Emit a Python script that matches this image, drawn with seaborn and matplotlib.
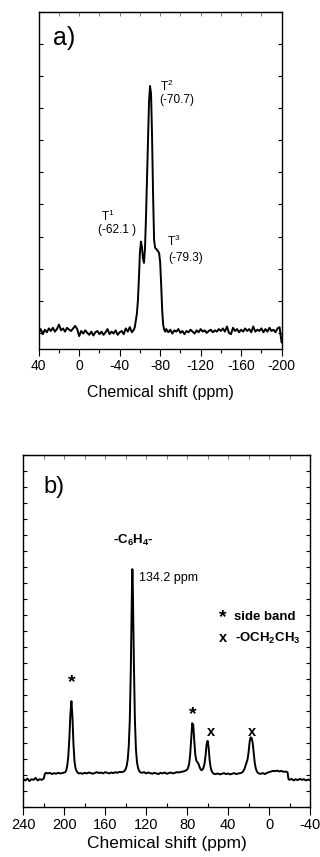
import numpy as np
import pandas as pd
import seaborn as sns
import matplotlib.pyplot as plt
from matplotlib.ticker import MultipleLocator, NullFormatter

# panel a: 29Si spectrum
shift_a = ([40, 38, 36, 34, 32, 30, 28, 26, 24, 22, 20, 18, 16, 14, 12, 10, 8, 6, 4, 2,
            0, -2, -4, -6, -8, -10, -12, -14, -16, -18, -20, -22, -24, -26, -28, -30,
            -32, -34, -36, -38, -40, -42, -44, -46, -48, -50, -52, -54]
           + list(range(-55, -87, -1))
           + [-88, -90, -92, -94, -96, -98, -100, -102, -104, -106, -108, -110, -112,
              -114, -116, -118, -120, -122, -124, -126, -128, -130, -132, -134, -136,
              -138, -140, -142, -144, -146, -148, -150, -152, -154, -156, -158, -160,
              -162, -164, -166, -168, -170, -172, -174, -176, -178, -180, -182, -184,
              -186, -188, -190, -192, -194, -196, -198, -200])
signal_a = ([0.000, 0.012, -0.004, 0.010, 0.002, 0.014, 0.006, 0.016, 0.004, 0.012,
             0.026, 0.008, 0.014, 0.004, 0.016, 0.010, 0.006, 0.014, 0.022, 0.012,
             -0.010, 0.006, -0.002, 0.008, 0.000, -0.006, 0.004, -0.008, 0.002, 0.006,
             -0.004, 0.004, -0.006, 0.002, 0.012, -0.004, 0.004, -0.002, 0.008, -0.006,
             0.002, 0.006, -0.004, 0.014, 0.004, 0.018, 0.002, 0.010]
            + [0.019, 0.040, 0.060, 0.100, 0.170, 0.250, 0.284, 0.268, 0.232, 0.218,
               0.262, 0.360, 0.480, 0.610, 0.720, 0.769, 0.745, 0.610, 0.430, 0.290,
               0.265, 0.262, 0.258, 0.254, 0.248, 0.220, 0.150, 0.070, 0.025, 0.010,
               0.004, 0.012]
            + [0.002, 0.010, -0.002, 0.008, 0.004, 0.012, 0.000, 0.006, -0.004, 0.006,
               0.002, 0.010, 0.004, -0.002, 0.008, 0.002, 0.012, 0.004, 0.008, 0.000,
               0.006, 0.010, 0.002, 0.008, 0.004, 0.012, 0.006, 0.014, 0.004, 0.020,
               0.000, -0.004, 0.016, 0.006, 0.012, 0.002, 0.010, 0.004, 0.014, 0.006,
               0.012, 0.002, 0.020, 0.004, 0.010, 0.006, 0.014, 0.002, 0.012, 0.004,
               0.016, 0.006, 0.010, 0.002, 0.014, 0.018, -0.030])

# panel b: 13C spectrum
shift_b = ([240, 238, 236, 234, 232, 230, 228, 226, 224, 222, 220, 219, 218, 216, 214,
            212, 210, 208, 206, 204, 202, 200]
           + list(range(199, 185, -1))
           + [184, 182, 180, 178, 176, 174, 172, 170, 168, 166, 164, 162, 160, 158, 156,
              154, 152, 150, 148, 146, 144, 142]
           + [141, 140, 139, 138, 137, 136, 135, 134, 133.5, 133, 132, 131, 130, 129,
              128, 127, 126]
           + [124, 122, 120, 118, 116, 114, 112, 110, 108, 106, 104, 102, 100, 98, 96,
              94, 92, 90, 88, 86, 84, 82, 80]
           + list(range(79, 53, -1))
           + [52, 50, 48, 46, 44, 42, 40, 38, 36, 34, 32, 30, 28]
           + list(range(27, 9, -1))
           + [8, 6, 4, 2, 0, -2, -4, -6, -8, -10, -12, -14, -16, -18, -19, -20, -22, -24,
              -26, -28, -30, -32, -34, -36, -38, -40])
signal_b = ([0.036, 0.032, 0.038, 0.030, 0.036, 0.034, 0.040, 0.032, 0.036, 0.034,
             0.038, 0.052, 0.056, 0.054, 0.056, 0.052, 0.055, 0.053, 0.056, 0.054,
             0.055, 0.057]
            + [0.058, 0.064, 0.080, 0.110, 0.165, 0.240, 0.280, 0.230, 0.145, 0.092,
               0.070, 0.062, 0.057, 0.054]
            + [0.055, 0.053, 0.056, 0.054, 0.057, 0.055, 0.053, 0.056, 0.058, 0.055,
               0.057, 0.054, 0.058, 0.056, 0.054, 0.057, 0.055, 0.058, 0.056, 0.059,
               0.058, 0.060]
            + [0.062, 0.068, 0.078, 0.098, 0.140, 0.220, 0.380, 0.610, 0.693, 0.630,
               0.400, 0.220, 0.130, 0.090, 0.072, 0.063, 0.058]
            + [0.056, 0.058, 0.054, 0.057, 0.055, 0.053, 0.056, 0.054, 0.052, 0.056,
               0.054, 0.057, 0.053, 0.055, 0.057, 0.054, 0.056, 0.058, 0.057, 0.059,
               0.060, 0.062, 0.066]
            + [0.072, 0.085, 0.115, 0.165, 0.211, 0.205, 0.155, 0.112, 0.094, 0.089,
               0.085, 0.075, 0.068, 0.064, 0.066, 0.072, 0.085, 0.110, 0.145, 0.156,
               0.135, 0.095, 0.072, 0.061, 0.056, 0.053]
            + [0.052, 0.054, 0.051, 0.053, 0.055, 0.052, 0.054, 0.051, 0.053, 0.055,
               0.052, 0.054, 0.055]
            + [0.056, 0.058, 0.062, 0.068, 0.078, 0.088, 0.098, 0.120, 0.152, 0.167,
               0.165, 0.150, 0.118, 0.088, 0.070, 0.061, 0.056, 0.054]
            + [0.053, 0.055, 0.052, 0.056, 0.058, 0.060, 0.062, 0.061, 0.063, 0.060,
               0.062, 0.059, 0.060, 0.058, 0.036, 0.034, 0.037, 0.032, 0.036, 0.033,
               0.037, 0.034, 0.036, 0.032, 0.035, 0.033])

df_a = pd.DataFrame({'shift': shift_a, 'signal': signal_a})
df_b = pd.DataFrame({'shift': shift_b, 'signal': signal_b})

sns.set_style('ticks')
plt.rcParams['font.family'] = ['Liberation Sans', 'DejaVu Sans']
plt.rcParams['mathtext.fontset'] = 'custom'
plt.rcParams['mathtext.rm'] = 'Liberation Sans'
plt.rcParams['mathtext.bf'] = 'Liberation Sans:bold'
plt.rcParams['axes.unicode_minus'] = False
plt.rcParams['text.color'] = 'black'
plt.rcParams['axes.labelcolor'] = 'black'
plt.rcParams['xtick.color'] = 'black'
plt.rcParams['ytick.color'] = 'black'

fig = plt.figure(figsize=(3.2, 8.57), dpi=100)
ax1 = fig.add_axes([0.121, 0.5928, 0.759, 0.3935])
ax2 = fig.add_axes([0.0728, 0.0587, 0.896, 0.4104])

# ---- a) ----
sns.lineplot(data=df_a, x='shift', y='signal', ax=ax1, color='black', lw=1.4,
             estimator=None, sort=False)
ax1.set_xlim(40, -200)
ax1.set_ylim(-0.05, 1.0)
ax1.xaxis.set_major_locator(MultipleLocator(40))
ax1.xaxis.set_minor_locator(MultipleLocator(20))
ax1.yaxis.set_major_locator(MultipleLocator(0.1))
ax1.tick_params(axis='x', which='major', direction='out', length=5, width=0.8,
                labelsize=10, pad=2)
ax1.tick_params(axis='x', which='minor', direction='out', length=3, width=0.8)
ax1.tick_params(axis='y', direction='in', length=3, width=0.8, left=True, right=True,
                labelleft=False)
ax1.set_xlabel('Chemical shift (ppm)', fontsize=11.5, labelpad=9)
ax1.set_ylabel('')
ax1.text(0.06, 0.922, 'a)', transform=ax1.transAxes, fontsize=18, va='center', ha='left')
ax1.text(-86.4, 0.769, r'T$^{\mathrm{2}}$', fontsize=8.5, ha='center', va='center')
ax1.text(-96.6, 0.725, '(-70.7)', fontsize=8.5, ha='center', va='center')
ax1.text(-27.8, 0.364, r'T$^{\mathrm{1}}$', fontsize=8.5, ha='center', va='center')
ax1.text(-37.0, 0.320, '(-62.1 )', fontsize=8.5, ha='center', va='center')
ax1.text(-93.6, 0.284, r'T$^{\mathrm{3}}$', fontsize=8.5, ha='center', va='center')
ax1.text(-105.2, 0.234, '(-79.3)', fontsize=8.5, ha='center', va='center')

# ---- b) ----
sns.lineplot(data=df_b, x='shift', y='signal', ax=ax2, color='black', lw=1.4,
             estimator=None, sort=False)
ax2.set_xlim(240, -40)
ax2.set_ylim(-0.05, 1.05)
ax2.xaxis.set_major_locator(MultipleLocator(40))
ax2.xaxis.set_minor_locator(MultipleLocator(20))
ax2.yaxis.set_major_locator(MultipleLocator(0.05))
ax2.tick_params(axis='x', which='major', direction='out', length=6, width=0.8,
                labelsize=10.5, pad=2)
ax2.tick_params(axis='x', which='minor', direction='in', length=3, width=0.8)
ax2.tick_params(axis='y', direction='in', length=3, width=0.8, left=True, right=True,
                labelleft=False)
ax2.set_xlabel('Chemical shift (ppm)', fontsize=12.5, labelpad=3)
ax2.set_ylabel('')
ax2.text(0.07, 0.91, 'b)', transform=ax2.transAxes, fontsize=17, va='center', ha='left')
ax2.text(133.0, 0.784, r'-C$_{\mathbf{6}}$H$_{\mathbf{4}}$-', fontsize=9.5,
         fontweight='bold', ha='center', va='center')
ax2.text(126.7, 0.664, '134.2 ppm', fontsize=9, ha='left', va='center')
ax2.text(44.8, 0.540, '*', fontsize=14, fontweight='bold', ha='center', va='center')
ax2.text(34.0, 0.542, 'side band', fontsize=9.5, fontweight='bold', ha='left', va='center')
ax2.text(44.8, 0.477, 'x', fontsize=10.5, fontweight='bold', ha='center', va='center')
ax2.text(33.3, 0.477, r'-OCH$_{\mathbf{2}}$CH$_{\mathbf{3}}$', fontsize=9.5,
         fontweight='bold', ha='left', va='center')
ax2.text(192.7, 0.337, '*', fontsize=14, fontweight='bold', ha='center', va='center')
ax2.text(74.6, 0.237, '*', fontsize=14, fontweight='bold', ha='center', va='center')
ax2.text(56.8, 0.184, 'x', fontsize=10.5, fontweight='bold', ha='center', va='center')
ax2.text(16.7, 0.184, 'x', fontsize=10.5, fontweight='bold', ha='center', va='center')

for ax in (ax1, ax2):
    for side in ax.spines.values():
        side.set_linewidth(1.0)
        side.set_color('black')
    ax.tick_params(axis='x', which='both', top=False)
    # inward ticks along the top frame
    top = ax.secondary_xaxis('top')
    top.xaxis.set_major_locator(MultipleLocator(40))
    top.xaxis.set_minor_locator(MultipleLocator(20))
    top.xaxis.set_major_formatter(NullFormatter())
    top.tick_params(which='both', direction='in', length=3, width=0.6, color='0.4')

fig.savefig('out.png', dpi=100)
